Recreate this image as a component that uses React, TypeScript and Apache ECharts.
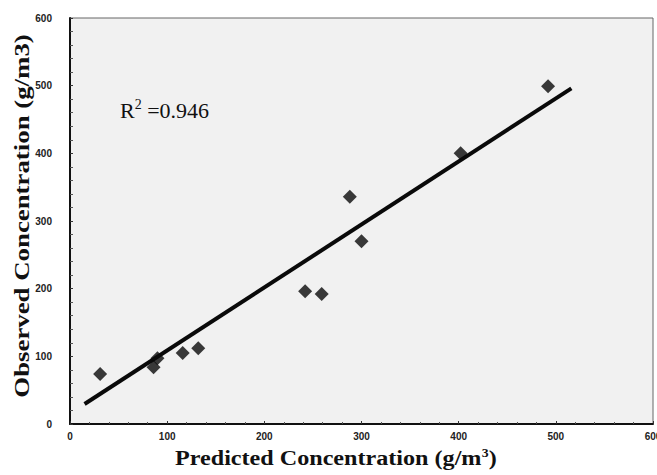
import React, { useEffect, useRef } from "react";
import * as echarts from "echarts";

const predicted = [31, 86, 90, 116, 132, 242, 259, 288, 300, 402, 492];
const observed = [74, 84, 97, 105, 112, 196, 192, 336, 270, 400, 499];
const fitX = [15, 516];
const fitY = [29.5, 496];
const xTicks = [0, 100, 200, 300, 400, 500, 600];
const yTicks = [0, 100, 200, 300, 400, 500, 600];
const r2Text = "0.946";

export default function App() {
  const ref = useRef<HTMLDivElement>(null);
  useEffect(() => {
    if (!ref.current) return;
    const chart = echarts.init(ref.current, null, { renderer: "svg" });
    const scatter = predicted.map((x, i) => [x, observed[i]]);
    const fit = fitX.map((x, i) => [x, fitY[i]]);
    chart.setOption({
      animation: false,
      backgroundColor: "#ffffff",
      grid: {
        left: 70,
        right: 4,
        top: 18,
        bottom: 51,
        outerBoundsMode: "none",
        containLabel: false,
        show: true,
        backgroundColor: "#f1f1f1",
        borderColor: "#666",
        borderWidth: 1,
      },
      xAxis: {
        type: "value",
        min: xTicks[0],
        max: xTicks[xTicks.length - 1],
        interval: 100,
        axisLine: { show: true, onZero: false, lineStyle: { color: "#111", width: 2 } },
        axisTick: { show: true, inside: true, length: 3, lineStyle: { color: "#333" } },
        minorTick: { show: true, splitNumber: 5, length: 2, lineStyle: { color: "#555" } },
        splitLine: { show: false },
        axisLabel: {
          fontFamily: "Liberation Sans, Arial, sans-serif",
          fontSize: 10,
          fontWeight: "bold",
          color: "#222",
          margin: 7,
        },
      },
      yAxis: {
        type: "value",
        min: yTicks[0],
        max: yTicks[yTicks.length - 1],
        interval: 100,
        axisLine: { show: true, onZero: false, lineStyle: { color: "#111", width: 2 } },
        axisTick: { show: true, inside: true, length: 3, lineStyle: { color: "#333" } },
        minorTick: { show: true, splitNumber: 5, length: 3, lineStyle: { color: "#555" } },
        splitLine: { show: false },
        axisLabel: {
          fontFamily: "Liberation Sans, Arial, sans-serif",
          fontSize: 10,
          fontWeight: "bold",
          color: "#222",
          margin: 18,
        },
      },
      series: [
        {
          type: "line",
          data: fit,
          showSymbol: false,
          lineStyle: { color: "#0a0a0a", width: 4 },
          z: 2,
        },
        {
          type: "scatter",
          data: scatter,
          symbol: "diamond",
          symbolSize: 14,
          itemStyle: { color: "#0a0a0a" },
          z: 3,
        },
      ],
      graphic: [
        {
          type: "text",
          left: 120,
          top: 97,
          style: {
            text: "{r|R}{sup|2}{r| =" + r2Text + "}",
            rich: {
              r: { fontFamily: "Liberation Serif, Times New Roman, serif", fontSize: 22, fill: "#111", verticalAlign: "bottom" },
              sup: { fontFamily: "Liberation Serif, Times New Roman, serif", fontSize: 14, fill: "#111", verticalAlign: "top", padding: [0, 0, 10, 0] },
            },
          },
        },
        {
          type: "text",
          x: 175,
          y: 447,
          scaleX: 1.15,
          style: {
            text: "{t|Predicted Concentration (g/m}{s|3}{t|)}",
            rich: {
              t: { fontFamily: "Liberation Serif, Times New Roman, serif", fontSize: 21, fontWeight: "bold", fill: "#111" },
              s: { fontFamily: "Liberation Serif, Times New Roman, serif", fontSize: 12, fontWeight: "bold", fill: "#111", padding: [0, 0, 10, 0] },
            },
          },
        },
        {
          type: "text",
          x: 21,
          y: 216,
          rotation: Math.PI / 2,
          scaleX: 1.22,
          style: {
            text: "Observed Concentration (g/m3)",
            fontFamily: "Liberation Serif, Times New Roman, serif",
            fontSize: 22,
            fontWeight: "bold",
            fill: "#111",
            align: "center",
            verticalAlign: "middle",
          },
        },
      ],
    });
    return () => chart.dispose();
  }, []);
  return (
    <div
      ref={ref}
      style={{ position: "fixed", left: 0, top: 0, width: 657, height: 475 }}
    />
  );
}
